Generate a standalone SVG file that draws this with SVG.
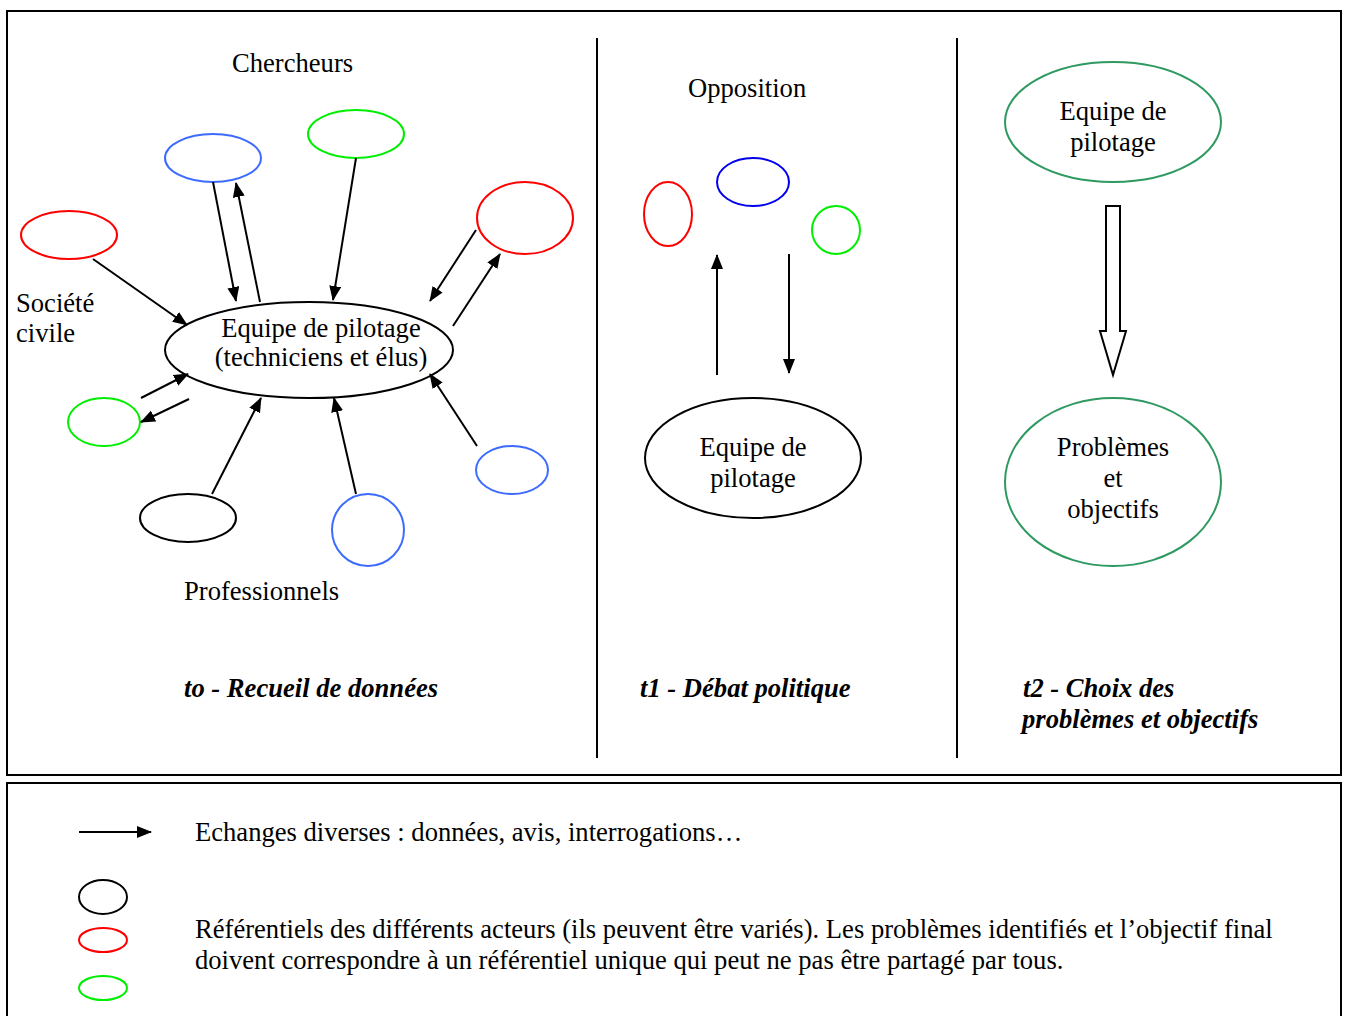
<svg xmlns="http://www.w3.org/2000/svg" width="1345" height="1016" viewBox="0 0 1345 1016">
<style>
text{font-family:"Liberation Serif","Times New Roman",serif;font-size:26.6px;fill:#000}
.c{text-anchor:middle}
.bi{font-weight:bold;font-style:italic}
.n{fill:none;stroke-width:2}
.k{stroke:#000}
.r{stroke:#ff0000}
.g{stroke:#00ee00}
.b{stroke:#3d6bff}
.bb{stroke:#0000ee}
.sg{stroke:#2e9960}
.e{stroke:#000;stroke-width:2;fill:none;marker-end:url(#ah)}
.frame{fill:none;stroke:#000;stroke-width:2}
</style>
<defs>
<marker id="ah" markerUnits="userSpaceOnUse" markerWidth="16" markerHeight="14" refX="14" refY="6" orient="auto">
<path d="M0,0 L15,6 L0,12 Z" fill="#000"/>
</marker>
</defs>
<rect width="1345" height="1016" fill="#fff"/>
<rect class="frame" x="7" y="11" width="1334" height="764"/>
<rect class="frame" x="7" y="783" width="1334" height="240"/>
<line x1="597" y1="38" x2="597" y2="758" stroke="#000" stroke-width="2"/>
<line x1="957" y1="38" x2="957" y2="758" stroke="#000" stroke-width="2"/>

<g id="labels">
<text x="232" y="72">Chercheurs</text>
<text x="16" y="312">Société</text>
<text x="16" y="342">civile</text>
<text x="184" y="600">Professionnels</text>
<text x="184" y="697" class="bi">to - Recueil de données</text>
<text x="688" y="97">Opposition</text>
<text x="640" y="697" class="bi">t1 - Débat politique</text>
<text x="1023" y="697" class="bi">t2 - Choix des</text>
<text x="1022" y="728" class="bi">problèmes et objectifs</text>
</g>

<g id="n-center">
<ellipse class="n k" cx="309" cy="350" rx="144" ry="48"/>
<text x="321" y="337" class="c">Equipe de pilotage</text>
<text x="321" y="366" class="c">(techniciens et élus)</text>
</g>
<g id="n-blue-top"><ellipse class="n b" cx="213" cy="158" rx="48" ry="24"/></g>
<g id="n-green-top"><ellipse class="n g" cx="356" cy="134" rx="48" ry="24"/></g>
<g id="n-red-left"><ellipse class="n r" cx="69" cy="235" rx="48" ry="24"/></g>
<g id="n-red-right"><ellipse class="n r" cx="525" cy="218" rx="48" ry="36"/></g>
<g id="n-green-left"><ellipse class="n g" cx="104" cy="422" rx="36" ry="24"/></g>
<g id="n-black-bottom"><ellipse class="n k" cx="188" cy="518" rx="48" ry="24"/></g>
<g id="n-blue-bottom"><ellipse class="n b" cx="368" cy="530" rx="36" ry="36"/></g>
<g id="n-blue-right"><ellipse class="n b" cx="512" cy="470" rx="36" ry="24"/></g>

<g id="n-opp-red"><ellipse class="n r" cx="668" cy="214" rx="24" ry="32"/></g>
<g id="n-opp-blue"><ellipse class="n bb" cx="753" cy="182" rx="36" ry="24"/></g>
<g id="n-opp-green"><ellipse class="n g" cx="836" cy="230" rx="24" ry="24"/></g>
<g id="n-t1-equipe">
<ellipse class="n k" cx="753" cy="458" rx="108" ry="60"/>
<text x="753" y="456" class="c">Equipe de</text>
<text x="753" y="487" class="c">pilotage</text>
</g>

<g id="n-t2-equipe">
<ellipse class="n sg" cx="1113" cy="122" rx="108" ry="60"/>
<text x="1113" y="120" class="c">Equipe de</text>
<text x="1113" y="151" class="c">pilotage</text>
</g>
<g id="n-t2-problemes">
<ellipse class="n sg" cx="1113" cy="482" rx="108" ry="84"/>
<text x="1113" y="456" class="c">Problèmes</text>
<text x="1113" y="487" class="c">et</text>
<text x="1113" y="518" class="c">objectifs</text>
</g>

<g id="connectors">
<line class="e" x1="213" y1="182" x2="236" y2="301"/>
<line class="e" x1="260" y1="302" x2="236" y2="183"/>
<line class="e" x1="356" y1="158" x2="333" y2="300"/>
<line class="e" x1="93" y1="259" x2="187" y2="325"/>
<line class="e" x1="476" y1="230" x2="430" y2="301"/>
<line class="e" x1="453" y1="326" x2="500" y2="254"/>
<line class="e" x1="141" y1="398" x2="188" y2="374"/>
<line class="e" x1="189" y1="399" x2="141" y2="422"/>
<line class="e" x1="212" y1="494" x2="261" y2="398"/>
<line class="e" x1="356" y1="494" x2="334" y2="398"/>
<line class="e" x1="477" y1="446" x2="430" y2="374"/>
<line class="e" x1="717" y1="375" x2="717" y2="255"/>
<line class="e" x1="789" y1="254" x2="789" y2="373"/>
<path d="M1106,206 L1120,206 L1120,331 L1126,331 L1113,375 L1100,331 L1106,331 Z" fill="#fff" stroke="#000" stroke-width="2"/>
</g>

<g id="legend">
<line class="e" x1="79" y1="832" x2="151" y2="832"/>
<text x="195" y="841">Echanges diverses : données, avis, interrogations…</text>
<ellipse class="n k" cx="103" cy="897" rx="24" ry="17"/>
<ellipse class="n r" cx="103" cy="940" rx="24" ry="12"/>
<ellipse class="n g" cx="103" cy="988" rx="24" ry="12"/>
<text x="195" y="938">Référentiels des différents acteurs (ils peuvent être variés). Les problèmes identifiés et l’objectif final</text>
<text x="195" y="969">doivent correspondre à un référentiel unique qui peut ne pas être partagé par tous.</text>
</g>
</svg>
